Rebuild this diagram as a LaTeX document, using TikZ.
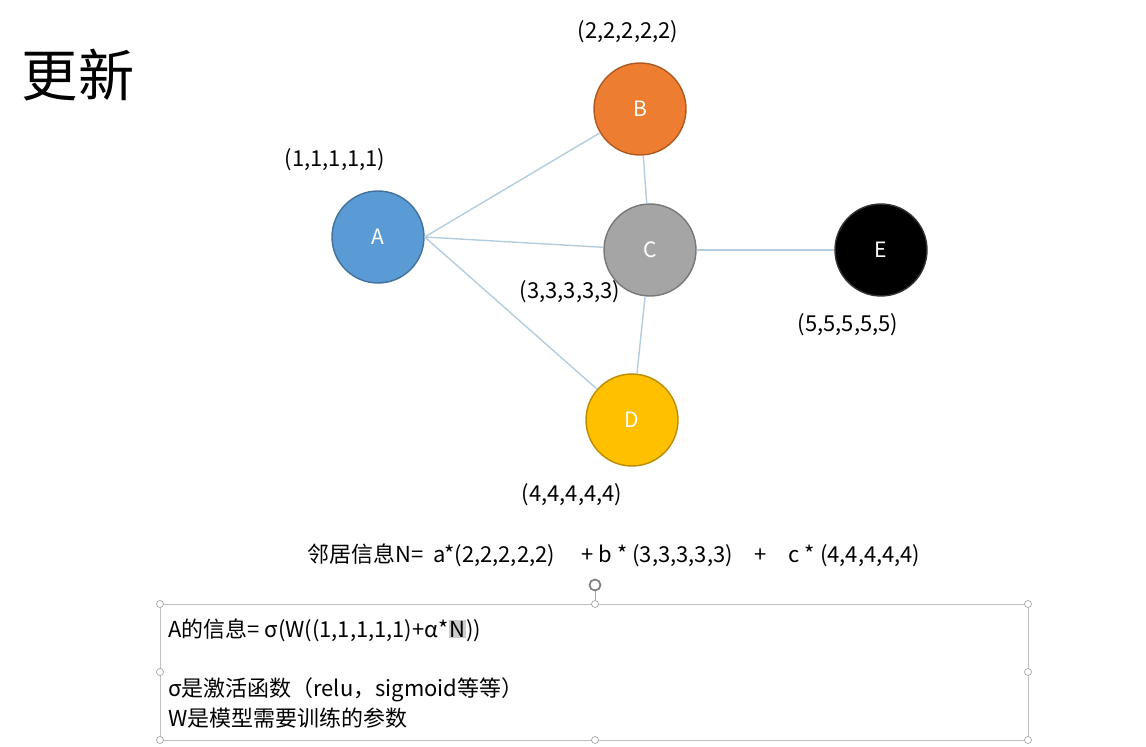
\documentclass[tikz,border=0pt]{standalone}
\usepackage{fontspec}
\setmainfont{Noto Sans CJK SC}
\begin{document}
\begin{tikzpicture}[x=0.02cm,y=-0.02cm,
  nd/.style={circle,minimum size=1.84cm,inner sep=0pt,line width=0.8pt,text=white,font=\fontsize{12}{14}\selectfont},
  lbl/.style={font=\fontsize{12.5}{15}\selectfont,inner sep=0pt},
  edge/.style={draw={rgb,255:red,180;green,205;blue,222},line width=0.8pt},
  hd/.style={circle,draw=gray!70,fill=white,minimum size=0.14cm,inner sep=0pt}]
\useasboundingbox (0,0) rectangle (1146,747);
\node[lbl,font=\fontsize{32}{36}\selectfont] (t) at (78,75) {更新};
\node[nd,fill={rgb,255:red,91;green,155;blue,213},draw={rgb,255:red,65;green,113;blue,156}] (A) at (378,237) {A};
\node[nd,fill={rgb,255:red,237;green,125;blue,49},draw={rgb,255:red,174;green,90;blue,33}] (B) at (640,109) {B};
\node[nd,fill={rgb,255:red,165;green,165;blue,165},draw={rgb,255:red,120;green,120;blue,120}] (C) at (650,250) {C};
\node[nd,fill={rgb,255:red,255;green,192;blue,0},draw={rgb,255:red,188;green,140;blue,0}] (D) at (632,420) {D};
\node[nd,fill=black,draw=black!80] (E) at (881,250) {E};
\draw[edge] (A.east) -- (B);
\draw[edge] (A.east) -- (C);
\draw[edge] (A.east) -- (D);
\draw[edge] (B) -- (C);
\draw[edge] (C) -- (D);
\draw[edge] (C) -- (E);
\node[lbl] (la) at (335,160) {(1,1,1,1,1)};
\node[lbl] (lb) at (628,32) {(2,2,2,2,2)};
\node[lbl] (lc) at (570,292) {(3,3,3,3,3)};
\node[lbl] (ld) at (572,495) {(4,4,4,4,4)};
\node[lbl] (le) at (848,325) {(5,5,5,5,5)};
\node[lbl] (f) at (614,555) {邻居信息N=\ \ a*(2,2,2,2,2)\quad\ + b * (3,3,3,3,3)\quad +\quad c * (4,4,4,4,4)};
\draw[gray!50,line width=0.4pt] (160,604) rectangle (1028,740);
\foreach \p/\n in {{160,604}/h1,{595,604}/h2,{1028,604}/h3,{160,672}/h4,{1028,672}/h5,{160,740}/h6,{595,740}/h7,{1028,740}/h8} \node[hd] (\n) at (\p) {};
\node[circle,draw=gray,line width=1pt,minimum size=0.22cm,inner sep=0pt] (rot) at (595,585) {};
\draw[gray!70] (rot) -- (h2);
\node[lbl,anchor=west] (m1) at (168,630) {A的信息= σ(W((1,1,1,1,1)+α*\setlength{\fboxsep}{0.5pt}\colorbox{gray!40}{N}))};
\node[lbl,anchor=west] (m2) at (168,690) {σ是激活函数（relu，sigmoid等等）};
\node[lbl,anchor=west] (m3) at (168,718) {W是模型需要训练的参数};
\end{tikzpicture}
\end{document}
